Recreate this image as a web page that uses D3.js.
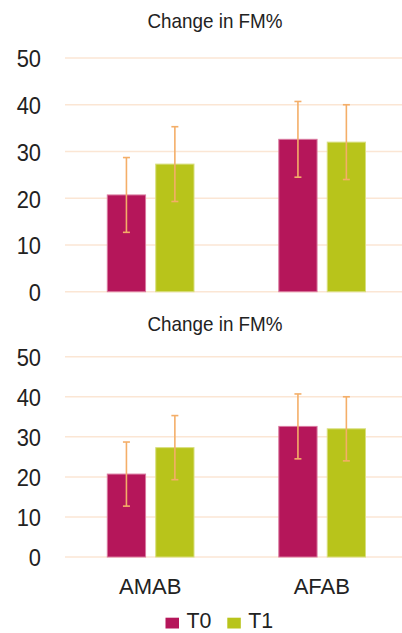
<!DOCTYPE html>
<html><head><meta charset="utf-8">
<script src="https://cdn.jsdelivr.net/npm/d3@7"></script>
<style>html,body{margin:0;padding:0;background:#fff;overflow:hidden}</style>
</head><body>
<svg id="c" width="402" height="633"></svg>
<script>
const categories = ["AMAB", "AFAB"];
const seriesNames = ["T0", "T1"];
const t0Values = [20.7, 32.6];
const t1Values = [27.3, 32.0];
const t0Errors = [8.0, 8.1];
const t1Errors = [8.0, 8.0];
const yTicks = [0, 10, 20, 30, 40, 50];
const chartTitle = "Change in FM%";
const colors = {T0: "#B5165A", T1: "#B8C41B"};
const strokes = {T0: "#D9799F", T1: "#D8DF7F"};

const svg = d3.select("#c");
const FONT = "'Liberation Sans', Arial, Helvetica, sans-serif";
const TEXT = "#222";

function sText(g, x, y, str, size, anchor, sx) {
  return g.append("text")
    .attr("transform", `translate(${x},${y}) scale(${sx},1)`)
    .attr("text-anchor", anchor)
    .attr("font-family", FONT)
    .attr("font-size", size + "px")
    .attr("fill", TEXT)
    .text(str);
}

const x0 = d3.scaleBand().domain(categories).range([65, 408]);
const x1 = d3.scaleBand().domain(seriesNames).range([42.3, 129]).paddingInner(0.21);

const data = categories.map((c, i) => ({
  cat: c,
  vals: [
    {s: "T0", v: t0Values[i], e: t0Errors[i]},
    {s: "T1", v: t1Values[i], e: t1Errors[i]}
  ]
}));

function drawPanel(top, bottom, titleY) {
  const y = d3.scaleLinear().domain([0, 50]).range([bottom, top]);
  const g = svg.append("g");
  g.selectAll("line.grid").data(yTicks).join("line")
    .attr("x1", 65).attr("x2", 402)
    .attr("y1", d => y(d)).attr("y2", d => y(d))
    .attr("stroke", "#FBE6D4").attr("stroke-width", 1.5);
  const ax = g.append("g").attr("transform", "translate(41,0)")
    .call(d3.axisLeft(y).tickValues(yTicks).tickSize(0).tickPadding(0));
  ax.select(".domain").remove();
  ax.selectAll("text").remove();
  ax.selectAll(".tick").each(function(d) {
    sText(d3.select(this), 0, 8.8, d, 24.6, "end", 0.89);
  });
  sText(g, 215, titleY, chartTitle, 20.5, "middle", 0.92);
  const grp = g.selectAll("g.cat").data(data).join("g")
    .attr("transform", d => `translate(${x0(d.cat)},0)`);
  grp.selectAll("rect").data(d => d.vals).join("rect")
    .attr("x", d => x1(d.s)).attr("width", x1.bandwidth())
    .attr("y", d => y(d.v)).attr("height", d => y(0) - y(d.v))
    .attr("fill", d => colors[d.s])
    .attr("stroke", d => strokes[d.s]).attr("stroke-width", 1);
  const eb = grp.selectAll("g.eb").data(d => d.vals).join("g")
    .attr("stroke", "#F4AE68").attr("stroke-width", 1.6);
  eb.append("line")
    .attr("x1", d => x1(d.s) + x1.bandwidth() / 2).attr("x2", d => x1(d.s) + x1.bandwidth() / 2)
    .attr("y1", d => y(d.v + d.e)).attr("y2", d => y(d.v - d.e));
  [1, -1].forEach(sg => {
    eb.append("line")
      .attr("x1", d => x1(d.s) + x1.bandwidth() / 2 - 3.5)
      .attr("x2", d => x1(d.s) + x1.bandwidth() / 2 + 3.5)
      .attr("y1", d => y(d.v + sg * d.e)).attr("y2", d => y(d.v + sg * d.e));
  });
  return y;
}

drawPanel(58, 291.7, 27.5);
drawPanel(356.7, 557, 331);

categories.forEach(c => {
  sText(svg, x0(c) + x0.bandwidth() / 2 - 0.5, 594, c, 22, "middle", 1);
});

const legendX = [165.5, 227.3];
seriesNames.forEach((s, i) => {
  svg.append("rect").attr("x", legendX[i]).attr("y", 617.7)
    .attr("width", 13.5).attr("height", 10.8).attr("fill", colors[s]);
  sText(svg, legendX[i] + 21, 628.2, s, 22, "start", 0.97);
});
</script>
</body></html>
